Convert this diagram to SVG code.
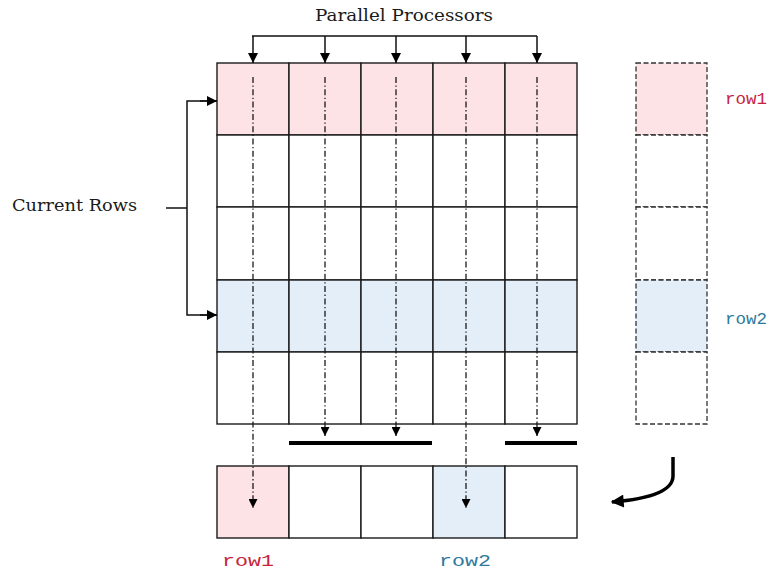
<svg xmlns="http://www.w3.org/2000/svg" width="779" height="571" viewBox="0 0 779 571">
  <defs>
    <style>
      .cell { fill: #ffffff; stroke: #1a1a1a; stroke-width: 1.4; }
      .buf { fill: #ffffff; stroke: #333333; stroke-width: 1.3; stroke-dasharray: 5 2.5; }
      .cell.pink, .buf.pink { fill: #fde3e6; }
      .cell.blue, .buf.blue { fill: #e3eef8; }
      .line { fill: none; stroke: #111111; stroke-width: 1.5; }
      .flow { fill: none; stroke: #1a1a1a; stroke-width: 1.3; stroke-dasharray: 6 2.5 1.3 2.5; }
      .bar { fill: none; stroke: #000000; stroke-width: 4; }
      .serif { font-family: "DejaVu Serif", "Liberation Serif", serif; font-size: 17px; fill: #1a1a1a; }
      .mono { font-family: "Liberation Mono", "DejaVu Sans Mono", monospace; font-size: 17px; }
      .r1 { fill: #c8233c; }
      .r2 { fill: #2f7a9c; }
    </style>
    <marker id="head" viewBox="0 0 10 10" refX="10" refY="5" markerWidth="12" markerHeight="10" markerUnits="userSpaceOnUse" orient="auto">
      <path d="M0,0 L10,5 L0,10 z" fill="#000000"/>
    </marker>
    <marker id="headSmall" viewBox="0 0 10 10" refX="10" refY="5" markerWidth="10" markerHeight="9" markerUnits="userSpaceOnUse" orient="auto">
      <path d="M0,0 L10,5 L0,10 z" fill="#000000"/>
    </marker>
    <marker id="headBig" viewBox="0 0 10 10" refX="9" refY="5" markerWidth="14" markerHeight="13" markerUnits="userSpaceOnUse" orient="auto">
      <path d="M0,0 L10,5 L0,10 z" fill="#000000"/>
    </marker>
  </defs>

  <rect width="779" height="571" fill="#ffffff"/>

  <!-- labels -->
  <g id="title">
    <text class="serif" x="404" y="21" text-anchor="middle" textLength="178" lengthAdjust="spacingAndGlyphs">Parallel Processors</text>
  </g>
  <g id="current-rows">
    <text class="serif" x="12" y="211" textLength="125" lengthAdjust="spacingAndGlyphs">Current Rows</text>
  </g>

  <!-- main matrix: five rows of five cells -->
  <g id="matrix-row-1">
    <rect class="cell pink" x="217" y="63" width="72" height="72"/>
    <rect class="cell pink" x="289" y="63" width="72" height="72"/>
    <rect class="cell pink" x="361" y="63" width="72" height="72"/>
    <rect class="cell pink" x="433" y="63" width="72" height="72"/>
    <rect class="cell pink" x="505" y="63" width="72" height="72"/>
  </g>
  <g id="matrix-row-2">
    <rect class="cell" x="217" y="135" width="72" height="72"/>
    <rect class="cell" x="289" y="135" width="72" height="72"/>
    <rect class="cell" x="361" y="135" width="72" height="72"/>
    <rect class="cell" x="433" y="135" width="72" height="72"/>
    <rect class="cell" x="505" y="135" width="72" height="72"/>
  </g>
  <g id="matrix-row-3">
    <rect class="cell" x="217" y="207" width="72" height="73"/>
    <rect class="cell" x="289" y="207" width="72" height="73"/>
    <rect class="cell" x="361" y="207" width="72" height="73"/>
    <rect class="cell" x="433" y="207" width="72" height="73"/>
    <rect class="cell" x="505" y="207" width="72" height="73"/>
  </g>
  <g id="matrix-row-4">
    <rect class="cell blue" x="217" y="280" width="72" height="72"/>
    <rect class="cell blue" x="289" y="280" width="72" height="72"/>
    <rect class="cell blue" x="361" y="280" width="72" height="72"/>
    <rect class="cell blue" x="433" y="280" width="72" height="72"/>
    <rect class="cell blue" x="505" y="280" width="72" height="72"/>
  </g>
  <g id="matrix-row-5">
    <rect class="cell" x="217" y="352" width="72" height="72"/>
    <rect class="cell" x="289" y="352" width="72" height="72"/>
    <rect class="cell" x="361" y="352" width="72" height="72"/>
    <rect class="cell" x="433" y="352" width="72" height="72"/>
    <rect class="cell" x="505" y="352" width="72" height="72"/>
  </g>

  <!-- buffered copy column -->
  <g id="buffer-column">
    <rect class="buf pink" x="636" y="63" width="71" height="72"/>
    <rect class="buf" x="636" y="135" width="71" height="72"/>
    <rect class="buf" x="636" y="207" width="71" height="73"/>
    <rect class="buf blue" x="636" y="280" width="71" height="72"/>
    <rect class="buf" x="636" y="352" width="71" height="72"/>
    <text class="mono r1" x="725" y="104" textLength="42" lengthAdjust="spacingAndGlyphs">row1</text>
    <text class="mono r2" x="725" y="324" textLength="42" lengthAdjust="spacingAndGlyphs">row2</text>
  </g>

  <!-- output row -->
  <g id="output-row">
    <rect class="cell pink" x="217" y="466" width="72" height="72"/>
    <rect class="cell" x="289" y="466" width="72" height="72"/>
    <rect class="cell" x="361" y="466" width="72" height="72"/>
    <rect class="cell blue" x="433" y="466" width="72" height="72"/>
    <rect class="cell" x="505" y="466" width="72" height="72"/>
    <text class="mono r1" x="222" y="566" textLength="52" lengthAdjust="spacingAndGlyphs">row1</text>
    <text class="mono r2" x="439" y="566" textLength="52" lengthAdjust="spacingAndGlyphs">row2</text>
  </g>

  <!-- bars -->
  <g id="bars">
    <line class="bar" x1="289" y1="443" x2="432" y2="443"/>
    <line class="bar" x1="505" y1="443" x2="577" y2="443"/>
  </g>

  <!-- connectors -->
  <g id="connectors">
    <!-- processors fan-out -->
    <path class="line" d="M252,36 H537"/>
    <line class="line" x1="253" y1="36" x2="253" y2="63" marker-end="url(#head)"/>
    <line class="line" x1="325" y1="36" x2="325" y2="63" marker-end="url(#head)"/>
    <line class="line" x1="396" y1="36" x2="396" y2="63" marker-end="url(#head)"/>
    <line class="line" x1="466" y1="36" x2="466" y2="63" marker-end="url(#head)"/>
    <line class="line" x1="537" y1="36" x2="537" y2="63" marker-end="url(#head)"/>

    <!-- current rows bracket -->
    <path class="line" d="M166,208 H187"/>
    <path class="line" d="M217,101 H187 V315 H217"/>
    <line class="line" x1="200" y1="101" x2="217" y2="101" marker-end="url(#head)"/>
    <line class="line" x1="200" y1="315" x2="217" y2="315" marker-end="url(#head)"/>

    <!-- column sweeps -->
    <line class="flow" x1="253" y1="77" x2="253" y2="508" marker-end="url(#headSmall)"/>
    <line class="flow" x1="325" y1="77" x2="325" y2="436" marker-end="url(#headSmall)"/>
    <line class="flow" x1="396" y1="77" x2="396" y2="436" marker-end="url(#headSmall)"/>
    <line class="flow" x1="466" y1="77" x2="466" y2="508" marker-end="url(#headSmall)"/>
    <line class="flow" x1="537" y1="77" x2="537" y2="436" marker-end="url(#headSmall)"/>

    <!-- return to output row -->
    <path d="M673,457 V476 Q673,497 612,502" fill="none" stroke="#000000" stroke-width="3.5" marker-end="url(#headBig)"/>
  </g>
</svg>
